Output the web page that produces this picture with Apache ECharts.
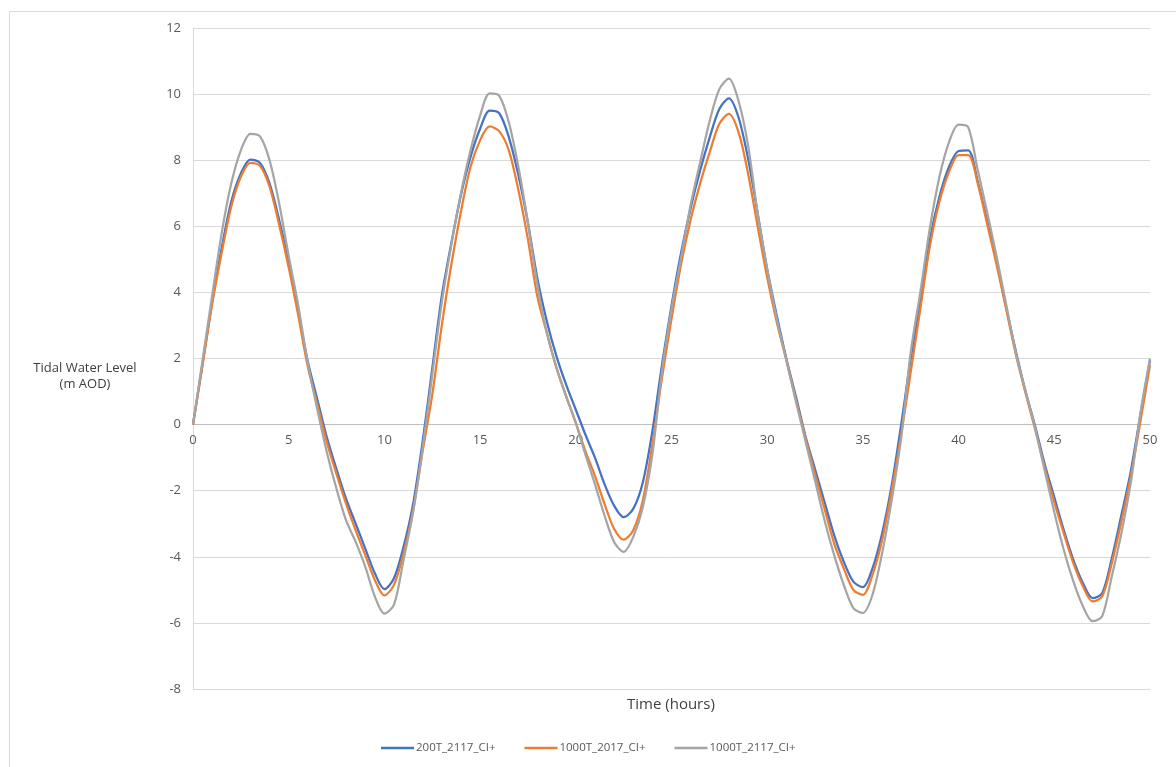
<!DOCTYPE html>
<html>
<head>
<meta charset="utf-8">
<script src="https://cdn.jsdelivr.net/npm/echarts@6/dist/echarts.min.js"></script>
<style>
html,body{margin:0;padding:0;background:#fff;}
#chart{width:1176px;height:767px;}
</style>
</head>
<body>
<div id="chart"></div>
<script>
// Time samples (hours)
const hours = [0,0.5,1,1.5,2,2.5,3,3.5,4,4.5,5,5.5,6,6.5,7,7.5,8,8.5,9,9.5,10,10.5,11,11.5,12,12.5,13,13.5,14,14.5,15,15.5,16,16.5,17,17.5,18,18.5,19,19.5,20,20.5,21,21.5,22,22.5,23,23.5,24,24.5,25,25.5,26,26.5,27,27.5,28,28.5,29,29.5,30,30.5,31,31.5,32,32.5,33,33.5,34,34.5,35,35.5,36,36.5,37,37.5,38,38.5,39,39.5,40,40.5,41,41.5,42,42.5,43,43.5,44,44.5,45,45.5,46,46.5,47,47.5,48,48.5,49,49.5,50];

const seriesNames = ['200T_2117_CI+', '1000T_2017_CI+', '1000T_2117_CI+'];

const level200T2117 = [0,1.85,3.7,5.35,6.75,7.6,8.02,7.92,7.3,6.2,4.9,3.4,1.9,0.75,-0.4,-1.35,-2.25,-3.0,-3.75,-4.5,-4.98,-4.65,-3.7,-2.4,-0.5,1.7,3.9,5.5,6.95,8.1,8.95,9.5,9.42,8.7,7.55,6.1,4.4,3.1,2.05,1.2,0.45,-0.3,-1.0,-1.8,-2.45,-2.8,-2.55,-1.75,-0.2,1.8,3.6,5.2,6.55,7.7,8.7,9.55,9.87,9.3,8.05,6.4,4.7,3.3,2.0,0.85,-0.35,-1.35,-2.35,-3.35,-4.15,-4.75,-4.92,-4.35,-3.3,-1.85,0.0,2.0,3.7,5.6,6.9,7.8,8.28,8.3,7.35,6.15,4.9,3.5,2.2,1.0,-0.05,-1.2,-2.2,-3.2,-4.1,-4.8,-5.25,-5.1,-4.05,-2.75,-1.4,0.3,1.95];

const level1000T2017 = [0,1.8,3.65,5.2,6.6,7.5,7.92,7.83,7.2,6.05,4.75,3.3,1.75,0.6,-0.55,-1.5,-2.4,-3.2,-3.95,-4.7,-5.17,-4.85,-3.9,-2.6,-0.8,0.9,3.0,4.85,6.45,7.8,8.6,9.02,8.88,8.3,7.1,5.6,3.85,2.75,1.7,0.85,0.05,-0.8,-1.55,-2.4,-3.15,-3.48,-3.2,-2.3,-0.6,1.4,3.2,4.85,6.2,7.3,8.25,9.1,9.4,8.85,7.6,6.0,4.45,3.1,1.95,0.75,-0.4,-1.5,-2.55,-3.6,-4.35,-5.0,-5.15,-4.55,-3.5,-2.0,-0.3,1.6,3.5,5.4,6.75,7.65,8.15,8.15,7.3,6.05,4.8,3.45,2.1,0.95,-0.15,-1.3,-2.35,-3.3,-4.2,-4.9,-5.35,-5.2,-4.2,-2.95,-1.55,0.1,1.8];

const level1000T2117 = [0,1.95,3.9,5.8,7.3,8.3,8.8,8.72,8.0,6.7,5.1,3.6,1.85,0.45,-0.85,-1.95,-2.9,-3.55,-4.3,-5.2,-5.72,-5.45,-4.1,-2.65,-0.7,1.5,3.7,5.45,7.0,8.3,9.35,10.02,9.95,9.15,7.8,6.1,4.2,2.75,1.7,0.85,0.05,-0.9,-1.8,-2.75,-3.55,-3.85,-3.4,-2.5,-0.9,1.6,3.5,5.05,6.65,7.95,9.2,10.15,10.47,9.8,8.45,6.4,4.7,3.2,1.95,0.7,-0.5,-1.7,-2.9,-3.95,-4.85,-5.55,-5.7,-5.15,-3.9,-2.3,-0.4,2.2,4.0,5.95,7.5,8.55,9.08,9.0,7.7,6.4,5.05,3.6,2.15,1.0,-0.1,-1.4,-2.65,-3.8,-4.75,-5.5,-5.95,-5.8,-4.6,-3.3,-1.75,0.35,2.0];

const colors = ['#4472C4', '#ED7D31', '#A5A5A5'];
const FONT = '"Open Sans", "Liberation Sans", sans-serif';

function pairs(vals){ return hours.map((h,i)=>[h, vals[i]]); }
const allLevels = [level200T2117, level1000T2017, level1000T2117];

const GRID_TOP = 28, GRID_BOTTOM = 78, H = 767;
const Y_MIN = -8, Y_MAX = 12;
// place the x axis on the zero line (distance from grid bottom to y=0)
const plotH = H - GRID_TOP - GRID_BOTTOM;
const zeroOffset = -plotH * (0 - Y_MIN) / (Y_MAX - Y_MIN);

const chart = echarts.init(document.getElementById('chart'), null, {renderer:'canvas'});
chart.setOption({
  animation: false,
  backgroundColor: '#fff',
  textStyle: {fontFamily: FONT},
  grid: {left: 193, right: 26, top: GRID_TOP, bottom: GRID_BOTTOM, containLabel: false},
  xAxis: {
    type: 'value', min: 0, max: 50, interval: 5,
    position: 'bottom', offset: zeroOffset,
    axisLine: {show: true, onZero: false, lineStyle: {color: '#BFBFBF', width: 1}},
    axisTick: {show: false},
    axisLabel: {color: '#595959', fontSize: 13, margin: 9, fontFamily: FONT},
    splitLine: {show: false}
  },
  yAxis: {
    type: 'value', min: Y_MIN, max: Y_MAX, interval: 2,
    axisLine: {show: true, onZero: false, lineStyle: {color: '#D9D9D9', width: 1}},
    axisTick: {show: false},
    axisLabel: {color: '#595959', fontSize: 13, margin: 12, fontFamily: FONT},
    splitLine: {lineStyle: {color: '#D9D9D9', width: 1}}
  },
  legend: {
    left: 376, top: 737,
    icon: 'rect',
    itemWidth: 33, itemHeight: 2.5, itemGap: 29,
    textStyle: {color: '#595959', fontSize: 11.5, fontFamily: FONT, padding: [0,0,0,-3]},
    data: seriesNames
  },
  graphic: [
    {type: 'rect', shape: {x: 9.5, y: 11.5, width: 1180, height: 770}, style: {fill: 'none', stroke: '#D9D9D9', lineWidth: 1}, z: -1},
    {type: 'text', left: 627, top: 697, style: {text: 'Time (hours)', fill: '#404040', font: '15px ' + FONT}},
    {type: 'text', x: 85, y: 376, style: {text: 'Tidal Water Level\n(m AOD)', fill: '#404040', font: '13px ' + FONT, align: 'center', verticalAlign: 'middle', lineHeight: 16}}
  ],
  series: allLevels.map((vals, i) => ({
    name: seriesNames[i],
    type: 'line',
    data: pairs(vals),
    showSymbol: false,
    symbol: 'none',
    smooth: 0.3,
    lineStyle: {color: colors[i], width: 2.25},
    itemStyle: {color: colors[i]},
    z: 2 + i
  }))
});
</script>
</body>
</html>
